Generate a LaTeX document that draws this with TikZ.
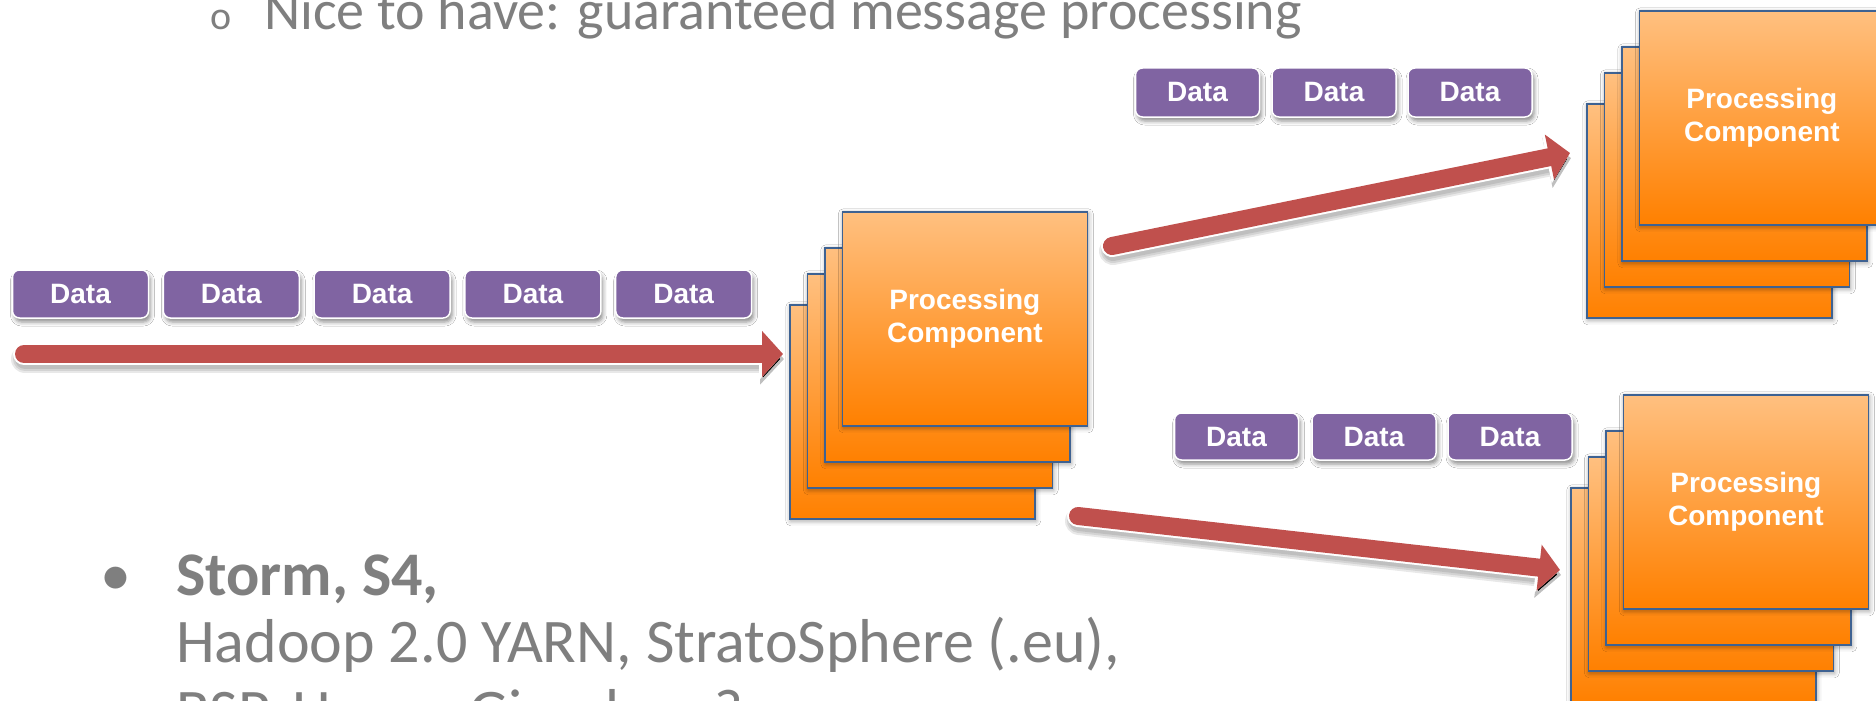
\documentclass[tikz,border=0pt]{standalone}
\usepackage{fontspec}
\setmainfont{Carlito}
\newfontfamily\labelfont{Liberation Sans}
\usetikzlibrary{arrows.meta,shadows.blur}

\definecolor{datapurple}{RGB}{128,100,162}
\definecolor{flowred}{RGB}{192,80,77}
\definecolor{procTop}{RGB}{255,192,128}
\definecolor{procBot}{RGB}{255,128,0}
\definecolor{procEdge}{RGB}{62,98,146}
\definecolor{slideGray}{RGB}{127,127,127}

\tikzset{
  datablock/.style={rounded corners=7pt, fill=datapurple, draw=white, line width=1.5pt,
    inner sep=0pt, text=white, font=\labelfont\bfseries\fontsize{28}{32}\selectfont,
    blur shadow={shadow xshift=2pt, shadow yshift=-4pt, shadow blur radius=4pt, shadow opacity=45}},
  procblock/.style={anchor=north west, minimum width=245pt, minimum height=214pt, inner sep=0pt,
    top color=procTop, bottom color=procBot, draw=procEdge, line width=1.6pt,
    blur shadow={shadow xshift=1pt, shadow yshift=-2pt, shadow blur radius=5pt, shadow opacity=40}},
  proclabel/.style={text=white, align=center, font=\labelfont\bfseries\fontsize{28}{33}\selectfont},
  flowshade/.style={line width=#1, draw=black, draw opacity=0.09, line cap=round,
    -{Triangle[length=24pt,width=50pt]}},
  flowrim/.style={line width=22pt, draw=white, line cap=round,
    -{Triangle[length=24pt,width=51pt]}},
  flowarrow/.style={line width=18pt, draw=flowred, line cap=round,
    -{Triangle[length=21pt,width=45pt]}},
  slidetext/.style={anchor=base west, text=slideGray, inner sep=0pt},
}

% a stack of four processing components; #2,#3 = top left corner of the rear sheet
\newcommand{\procstack}[3]{%
  \node[procblock] (#1a) at (#2,#3) {};
  \node[procblock] (#1b) at (#2+17.5,#3-31) {};
  \node[procblock] (#1c) at (#2+35,#3-57) {};
  \node[procblock] (#1d) at (#2+52.5,#3-93) {};
  \node[proclabel] (#1t) at (#1d.center) {Processing\\Component};
}

% a stream arrow with its soft shadow and white rim
\newcommand{\flow}[2]{%
  \begin{scope}[transform canvas={xshift=1pt,yshift=-5pt}]
    \draw[flowshade=28pt] (#1) -- (#2);
    \draw[flowshade=24pt] (#1) -- (#2);
    \draw[flowshade=20pt] (#1) -- (#2);
  \end{scope}
  \draw[flowrim] (#1) -- (#2);
  \draw[flowarrow] (#1) -- (#2);
}

\begin{document}
\begin{tikzpicture}[x=1pt,y=-1pt]
\useasboundingbox (0,0) rectangle (1876,701);
\clip (0,0) rectangle (1876,701);
\fill[white] (0,0) rectangle (1876,701);

% slide text
\node[slidetext, font=\fontsize{40}{48}\selectfont] (subbullet) at (210,30) {o};
\node[slidetext, font=\fontsize{56}{64}\selectfont] (subline) at (264,30)
  {Nice to have: guaranteed message processing};
\node[anchor=base, text=slideGray, inner sep=0pt, font=\fontsize{62}{70}\selectfont] (bullet) at (116,595) {•};
\node[slidetext, font=\bfseries\fontsize{62}{70}\selectfont] (lineA) at (176,595) {Storm, S4,};
\node[slidetext, font=\fontsize{62}{70}\selectfont] (lineB) at (176,662) {Hadoop 2.0 YARN, StratoSphere (.eu),};
\node[slidetext, font=\fontsize{62}{70}\selectfont] (lineC) at (176,732) {BSP, Hama, Giraph, ...?};

% processing components
\procstack{mid}{789}{304}
\procstack{up}{1586}{103}
\procstack{dn}{1570}{487}

% stream arrows
\coordinate (inTail) at (24,354);
\coordinate (inTip) at (783,354);
\coordinate (upTail) at (1112,246);
\coordinate (upTip) at (1570,153);
\coordinate (dnTail) at (1078,516);
\coordinate (dnTip) at (1560,570);
\flow{inTail}{inTip}
\flow{upTail}{upTip}
\flow{dnTail}{dnTip}

% incoming data items
\foreach \i in {0,...,4}
  \node[datablock, minimum width=136pt, minimum height=48pt] (in\i) at (80.5+150.8*\i,294) {Data};
% data items towards the upper component
\foreach \i/\x in {0/1197.5,1/1334,2/1470}
  \node[datablock, minimum width=124pt, minimum height=49pt] (up\i) at (\x,92.5) {Data};
% data items towards the lower component
\foreach \i/\x in {0/1236.5,1/1374,2/1510}
  \node[datablock, minimum width=124pt, minimum height=47pt] (dn\i) at (\x,436.5) {Data};
\end{tikzpicture}
\end{document}
